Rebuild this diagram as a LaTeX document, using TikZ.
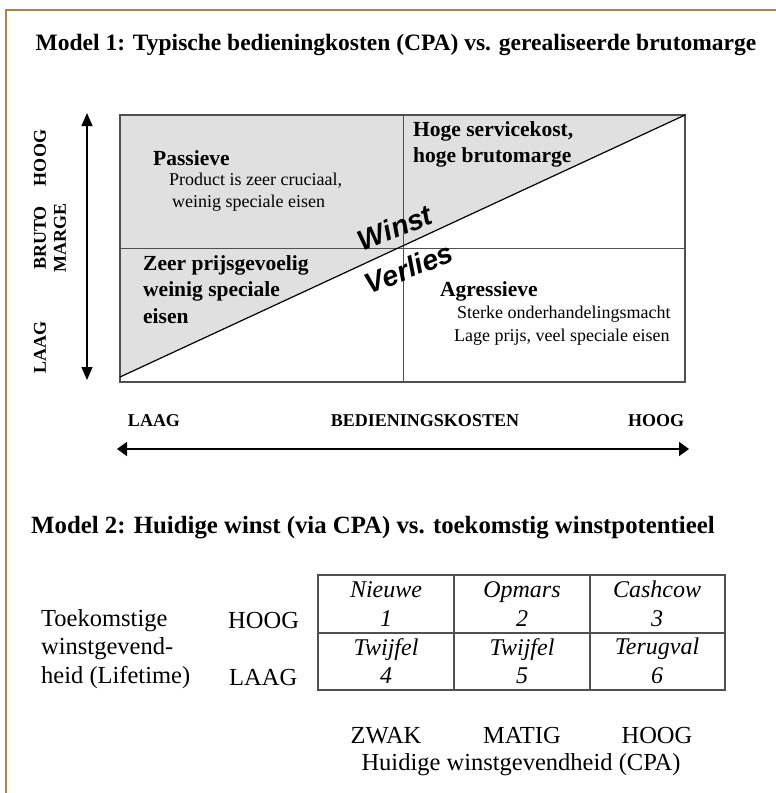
\documentclass[tikz,border=0pt]{standalone}
\usepackage{fontspec}
\setmainfont{Liberation Serif}
\newfontfamily\arialfont{Liberation Sans}
\usetikzlibrary{positioning,arrows.meta}

\definecolor{kader}{RGB}{170,130,75}
\definecolor{vlak}{RGB}{224,224,224}
\definecolor{lijn}{RGB}{80,80,80}

\begin{document}
\begin{tikzpicture}[x=1pt,y=-1pt,
	titel/.style={font=\bfseries\fontsize{23.5}{28}\selectfont, inner sep=0},
	kop/.style={font=\bfseries\fontsize{21.5}{26}\selectfont, anchor=west, inner sep=0},
	tekst/.style={font=\fontsize{18}{22}\selectfont, anchor=west, inner sep=0},
	as/.style={font=\bfseries\fontsize{18}{22}\selectfont, inner sep=0},
	schuin/.style={font=\arialfont\bfseries\itshape\fontsize{28.5}{30}\selectfont, rotate=22, inner sep=0},
	cel/.style={font=\itshape\fontsize{24}{28.5}\selectfont, align=center, inner sep=0},
	gewoon/.style={font=\fontsize{24.5}{28.5}\selectfont, inner sep=0}]

	\useasboundingbox (0,0) rectangle (776,793);

	% kader
	\draw[kader, line width=1.3pt] (6,793) -- (6,10) -- (776,10);

	% Model 1
	\node[titel] (titel1) at (396,45) {Model 1: Typische bedieningkosten (CPA) vs. gerealiseerde brutomarge};

	\coordinate (lb) at (120,115);
	\coordinate (rb) at (685,115);
	\coordinate (ro) at (685,382);
	\coordinate (lo) at (120,382);
	\coordinate (diag) at (120,377);
	\coordinate (mb) at (403,115);
	\coordinate (mo) at (403,382);
	\coordinate (ml) at (120,248);
	\coordinate (mr) at (685,248);

	\fill[vlak] (lb) -- (rb) -- (diag) -- cycle;
	\draw[lijn, line width=1.3pt] (lb) rectangle (ro);
	\draw[lijn, line width=1pt] (mb) -- (mo);
	\draw[lijn, line width=1pt] (ml) -- (mr);
	\draw[line width=1.2pt] (diag) -- (rb);

	\node[kop] (passief) at (153,158) {Passieve};
	\node[tekst] (passief1) at (169,181) {Product is zeer cruciaal,};
	\node[tekst] (passief2) at (172,203) {weinig speciale eisen};

	\node[kop] (hoog1) at (413,131) {Hoge servicekost,};
	\node[kop] (hoog2) at (413,157) {hoge brutomarge};

	\node[kop] (zeer1) at (143,265) {Zeer prijsgevoelig};
	\node[kop] (zeer2) at (143,291) {weinig speciale};
	\node[kop] (zeer3) at (143,316) {eisen};

	\node[kop] (agres) at (440,291) {Agressieve};
	\node[tekst] (agres1) at (457,314) {Sterke onderhandelingsmacht};
	\node[tekst] (agres2) at (454,337) {Lage prijs, veel speciale eisen};

	\node[schuin] (winst) at (395,228) {Winst};
	\node[schuin] (verlies) at (409,268) {Verlies};

	% assen
	\coordinate (vboven) at (87,113);
	\coordinate (vonder) at (87,380);
	\draw[line width=1.3pt, {Triangle[width=11pt,length=13pt]}-{Triangle[width=11pt,length=13pt]}] (vboven) -- (vonder);

	\node[as, rotate=90] (ashoog) at (40,158) {HOOG};
	\node[as, rotate=90] (asbruto) at (40,238) {BRUTO};
	\node[as, rotate=90] (asmarge) at (60,238) {MARGE};
	\node[as, rotate=90] (aslaag) at (40,347) {LAAG};

	\node[as] (xlaag) at (154,421) {LAAG};
	\node[as] (xkost) at (425,421) {BEDIENINGSKOSTEN};
	\node[as] (xhoog) at (656,421) {HOOG};

	\coordinate (hlinks) at (117,449);
	\coordinate (hrechts) at (689,449);
	\draw[line width=1.8pt, {Triangle[width=14pt,length=10pt]}-{Triangle[width=14pt,length=10pt]}] (hlinks) -- (hrechts);

	% Model 2
	\node[titel, font=\bfseries\fontsize{24.8}{28}\selectfont] (titel2) at (373,528) {Model 2: Huidige winst (via CPA) vs. toekomstig winstpotentieel};

	\draw[lijn, line width=1.3pt] (318,575) rectangle (725,690);
	\draw[lijn, line width=1.3pt] (318,633) -- (725,633);
	\draw[lijn, line width=1.3pt] (454,575) -- (454,690);
	\draw[lijn, line width=1.3pt] (590,575) -- (590,690);

	\foreach \naam/\nr/\x/\y in {Nieuwe/1/386/604, Opmars/2/522/604, Cashcow/3/657/604,
		Twijfel/4/386/661, Twijfel/5/522/661, Terugval/6/657/661}
		\node[cel] (cel\nr) at (\x,\y) {\naam\\\nr};

	\node[gewoon, anchor=west, align=left] (toekomst) at (41,649) {Toekomstige\\winstgevend-\\heid (Lifetime)};
	\node[gewoon, anchor=west] (yhoog) at (228,620) {HOOG};
	\node[gewoon, anchor=west] (ylaag) at (229,677) {LAAG};

	\node[gewoon, anchor=base] (zwak) at (386,743) {ZWAK};
	\node[gewoon, anchor=base] (matig) at (522,743) {MATIG};
	\node[gewoon, anchor=base] (xhoog2) at (657,743) {HOOG};
	\node[gewoon, anchor=base] (huidig) at (521,770) {Huidige winstgevendheid (CPA)};

\end{tikzpicture}
\end{document}
